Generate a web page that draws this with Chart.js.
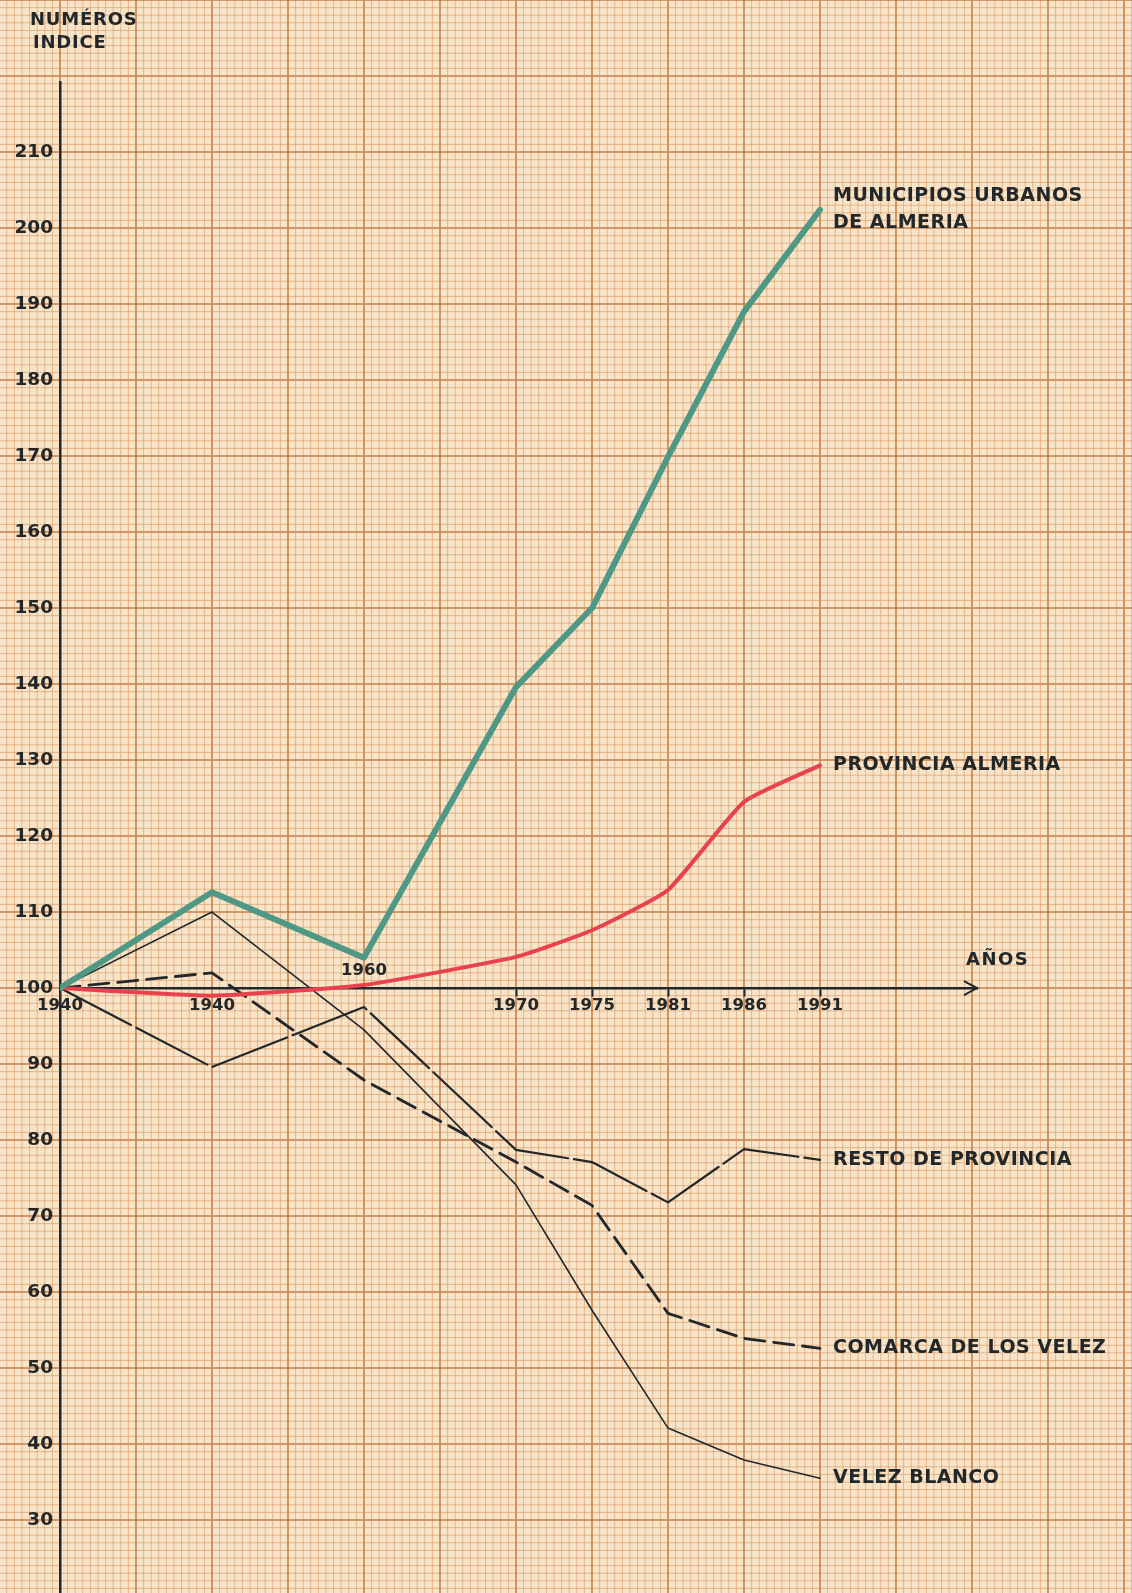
<!DOCTYPE html>
<html>
<head>
<meta charset="utf-8">
<script src="https://cdn.jsdelivr.net/npm/chart.js@4.4.1/dist/chart.umd.min.js"></script>
<style>
  html, body { margin: 0; padding: 0; background: #f8e4c9; }
  #grafico { display: block; }
</style>
</head>
<body>
<canvas id="grafico" width="1132" height="1593"></canvas>
<script>
// Posiciones en el eje X, medidas en cuadros grandes del papel milimetrado
const xPositions = [0, 2, 4, 6, 7, 8, 9, 10];
const xLabels = ["1940", "1940", "", "1970", "1975", "1981", "1986", "1991"];
const xLabelsAbove = ["1960"];
const xPositionsAbove = [4];
const yTicks = [30, 40, 50, 60, 70, 80, 90, 100, 110, 120, 130, 140, 150, 160, 170, 180, 190, 200, 210];

// Números índice de cada serie
const municipiosUrbanos = [100, 112.6, 104, 139.6, 150.0, 169.9, 189.0, 202.4];
const provinciaAlmeria = [100, 99.0, 100.4, 104.1, 107.6, 112.9, 124.5, 129.3];
const restoProvincia = [100, 89.6, 97.5, 78.7, 77.1, 71.8, 78.8, 77.4];
const comarcaVelez = [100, 102.0, 87.9, 77.1, 71.4, 57.2, 53.9, 52.6];
const velezBlanco = [100, 110.0, 94.5, 74.1, 57.6, 42.1, 37.9, 35.5];

const seriesNames = [
  ["MUNICIPIOS URBANOS", "DE ALMERIA"],
  ["PROVINCIA ALMERIA"],
  ["RESTO DE PROVINCIA"],
  ["COMARCA DE LOS VELEZ"],
  ["VELEZ BLANCO"],
];

const tinta = "#22272a";

function puntos(serie) {
  return xPositions.map((x, i) => ({ x: x, y: serie[i] }));
}

// Fondo de papel milimetrado, alineado con las escalas
const papelMilimetrado = {
  id: "papelMilimetrado",
  beforeDraw(chart) {
    const { ctx, width, height } = chart;
    const x = chart.scales.x;
    const y = chart.scales.y;
    ctx.save();
    ctx.fillStyle = "#f8e4c9";
    ctx.fillRect(0, 0, width, height);

    const vMin = Math.floor(y.getValueForPixel(height)) - 1;
    const vMax = Math.ceil(y.getValueForPixel(0)) + 1;
    const kMin = Math.floor(x.getValueForPixel(0) * 10) - 1;
    const kMax = Math.ceil(x.getValueForPixel(width) * 10) + 1;

    // líneas finas (milímetros)
    ctx.strokeStyle = "rgba(212, 136, 74, 0.5)";
    ctx.lineWidth = 1;
    ctx.beginPath();
    for (let v = vMin; v <= vMax; v++) {
      if (v % 10 === 0) continue;
      const py = y.getPixelForValue(v);
      ctx.moveTo(0, py);
      ctx.lineTo(width, py);
    }
    for (let k = kMin; k <= kMax; k++) {
      if (k % 10 === 0) continue;
      const px = x.getPixelForValue(k / 10);
      ctx.moveTo(px, 0);
      ctx.lineTo(px, height);
    }
    ctx.stroke();

    // líneas gruesas cada centímetro
    ctx.strokeStyle = "rgba(192, 112, 50, 0.85)";
    ctx.lineWidth = 1.6;
    ctx.beginPath();
    for (let v = vMin; v <= vMax; v++) {
      if (v % 10 !== 0) continue;
      const py = y.getPixelForValue(v);
      ctx.moveTo(0, py);
      ctx.lineTo(width, py);
    }
    for (let k = kMin; k <= kMax; k++) {
      if (k % 10 !== 0) continue;
      const px = x.getPixelForValue(k / 10);
      ctx.moveTo(px, 0);
      ctx.lineTo(px, height);
    }
    ctx.stroke();
    ctx.restore();
  },
};

// Rótulos de las series, título y flecha del eje X
const rotulos = {
  id: "rotulos",
  afterDraw(chart) {
    const ctx = chart.ctx;
    ctx.save();
    ctx.fillStyle = tinta;
    ctx.strokeStyle = tinta;
    ctx.textBaseline = "middle";
    ctx.textAlign = "left";

    ctx.font = "bold 19px 'DejaVu Sans'";
    ctx.letterSpacing = "0.5px";
    chart.data.datasets.forEach((ds, i) => {
      const meta = chart.getDatasetMeta(i);
      const last = meta.data[meta.data.length - 1];
      const lines = seriesNames[i];
      lines.forEach((line, j) => {
        const dy = (j - (lines.length - 1) / 2) * 27;
        ctx.fillText(line, last.x + 13, last.y + dy);
      });
    });

    ctx.font = "bold 18px 'DejaVu Sans'";
    ctx.letterSpacing = "0.8px";
    ctx.fillText("NUMÉROS", 30, 20);
    ctx.fillText("INDICE", 33, 43);

    const tipX = chart.chartArea.right;
    const tipY = chart.scales.y.getPixelForValue(100);
    ctx.lineWidth = 2;
    ctx.beginPath();
    ctx.moveTo(tipX - 13, tipY - 7);
    ctx.lineTo(tipX, tipY);
    ctx.lineTo(tipX - 13, tipY + 7);
    ctx.stroke();

    ctx.font = "bold 18px 'DejaVu Sans'";
    ctx.letterSpacing = "1.5px";
    ctx.fillText("AÑOS", tipX - 11, tipY - 28);
    ctx.restore();
  },
};

const ctx = document.getElementById("grafico").getContext("2d");

new Chart(ctx, {
  type: "line",
  data: {
    datasets: [
      {
        label: seriesNames[0].join(" "),
        data: puntos(municipiosUrbanos),
        borderColor: "#4e9885",
        borderWidth: 6,
        tension: 0,
      },
      {
        label: seriesNames[1].join(" "),
        data: puntos(provinciaAlmeria),
        borderColor: "#e6434f",
        borderWidth: 4,
        tension: 0.15,
      },
      {
        label: seriesNames[2].join(" "),
        data: puntos(restoProvincia),
        borderColor: tinta,
        borderWidth: 2.2,
        borderDash: [80, 6],
        tension: 0,
      },
      {
        label: seriesNames[3].join(" "),
        data: puntos(comarcaVelez),
        borderColor: tinta,
        borderWidth: 2.8,
        borderDash: [20, 9],
        tension: 0,
      },
      {
        label: seriesNames[4].join(" "),
        data: puntos(velezBlanco),
        borderColor: tinta,
        borderWidth: 1.6,
        tension: 0,
      },
    ],
  },
  options: {
    responsive: false,
    animation: false,
    layout: { padding: { top: 82, right: 155, bottom: 0, left: 0 } },
    elements: {
      point: { radius: 0 },
      line: { borderCapStyle: "round", borderJoinStyle: "round" },
    },
    plugins: {
      legend: { display: false },
      tooltip: { enabled: false },
    },
    scales: {
      x: {
        type: "linear",
        position: { y: 100 },
        min: 0,
        max: 917 / 76,
        afterBuildTicks: (scale) => {
          scale.ticks = xPositions.map((v) => ({ value: v }));
        },
        afterFit: (scale) => {
          scale.height = 0;
        },
        grid: {
          display: true,
          drawOnChartArea: false,
          drawTicks: true,
          tickLength: 7,
          tickWidth: 2,
          tickColor: (c) => (c.index >= 3 ? tinta : "rgba(0,0,0,0)"),
        },
        border: { display: true, color: tinta, width: 2.5 },
        ticks: {
          autoSkip: false,
          maxRotation: 0,
          padding: 1,
          color: tinta,
          font: { family: "DejaVu Sans", size: 16.5, weight: "bold" },
          callback: (value, index) => xLabels[index],
        },
      },
      x2: {
        type: "linear",
        axis: "x",
        position: { y: 100 },
        min: 0,
        max: 917 / 76,
        afterBuildTicks: (scale) => {
          scale.ticks = xPositionsAbove.map((v) => ({ value: v }));
        },
        afterFit: (scale) => {
          scale.height = 0;
        },
        grid: { display: false, drawTicks: false },
        border: { display: false },
        ticks: {
          autoSkip: false,
          maxRotation: 0,
          padding: -27,
          color: tinta,
          font: { family: "DejaVu Sans", size: 16.5, weight: "bold" },
          callback: (value, index) => xLabelsAbove[index],
        },
      },
      y: {
        type: "linear",
        position: "left",
        min: 20.4,
        max: 20.4 + 1511 / 7.6,
        afterBuildTicks: (scale) => {
          scale.ticks = yTicks.map((v) => ({ value: v }));
        },
        afterFit: (scale) => {
          scale.width = 60;
          scale.paddingTop = 0;
          scale.paddingBottom = 0;
        },
        grid: { display: false, drawTicks: false },
        border: { display: true, color: tinta, width: 2.5 },
        ticks: {
          padding: 7,
          color: tinta,
          font: { family: "DejaVu Sans", size: 18.5, weight: "bold" },
        },
      },
    },
  },
  plugins: [papelMilimetrado, rotulos],
});
</script>
</body>
</html>
